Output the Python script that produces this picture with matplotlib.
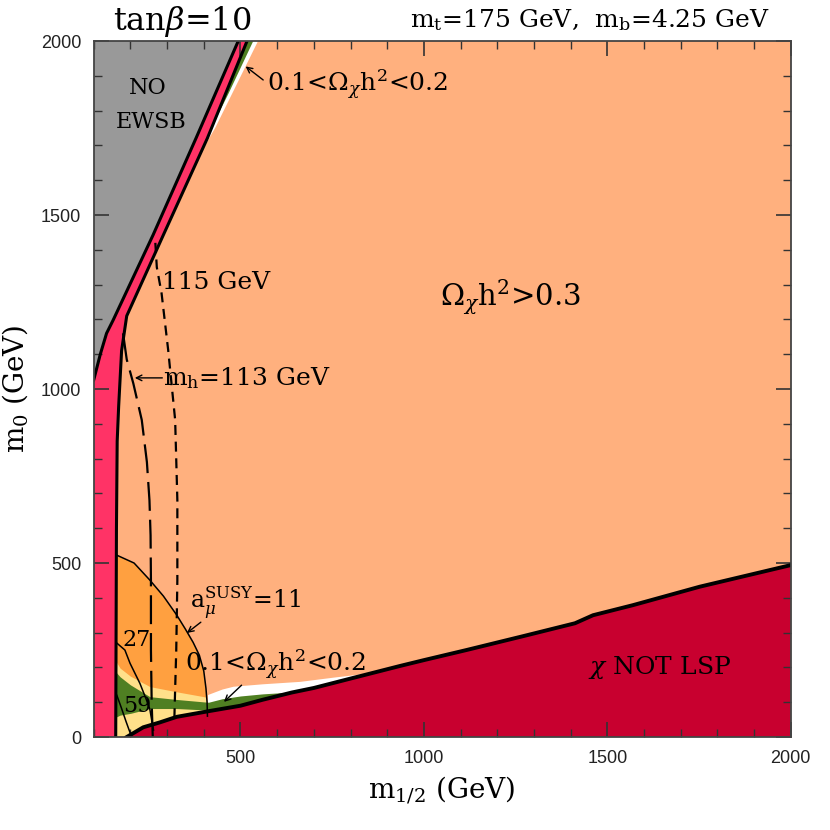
import numpy as np
import matplotlib.pyplot as plt
from matplotlib.ticker import MultipleLocator

plt.rcParams['font.family'] = ['DejaVu Serif']
plt.rcParams['mathtext.fontset'] = 'dejavuserif'

# boundaries, (m_1/2, m_0) in GeV
ewsb_x = [100, 118, 135, 153, 262, 379, 494]
ewsb_y = [1026, 1100, 1160, 1198, 1443, 1721, 2000]

chargino_x = [160, 162, 164, 168, 176, 190, 290, 410, 518]
chargino_y = [0, 600, 850, 950, 1110, 1210, 1443, 1721, 2000]

stau_x = [190, 235, 280, 326, 417, 500, 560, 640, 700, 800, 934, 1000, 1116, 1271, 1412, 1461, 1570, 1752, 2000]
stau_y = [0, 28, 42, 58, 75, 90, 107, 128, 141, 168, 204, 221, 250, 290, 327, 350, 379, 432, 494]

amu11_x = [162, 210, 253, 290, 326, 350, 371, 388, 400, 406, 409, 410]
amu11_y = [523, 500, 451, 405, 351, 310, 272, 235, 190, 140, 100, 60]
amu27_x = [163, 185, 199, 226, 244, 253, 258, 263]
amu27_y = [270, 250, 212, 154, 106, 80, 49, 20]
amu59_x = [163, 175, 188, 200, 204]
amu59_y = [120, 85, 45, 10, 0]

mh113_x = [180, 190, 208, 231, 245, 252, 255, 256, 256, 258, 261]
mh113_y = [1160, 1085, 1016, 911, 790, 680, 580, 450, 250, 100, 0]
mh115_x = [268, 272, 285, 303, 322, 328, 328, 325, 321, 320]
mh115_y = [1420, 1350, 1275, 1112, 911, 681, 451, 250, 100, 58]

# relic density bands near the bottom
band_x = [162, 172, 200, 253, 326, 400, 413]
yellow_top = [215, 198, 175, 145, 130, 116, 113]

green_x = [162, 172, 200, 253, 326, 400, 413, 450, 500, 560, 620, 665]
green_top = [185, 173, 150, 116, 108, 101, 100, 110, 118, 124, 128, 133]
green_bot = [58, 63, 68, 82, 82, 78, 76, 60, 60, 60, 60, 60]

white_x = [410, 450, 480, 560, 662, 752, 825, 860]
white_top = [122, 138, 146, 153, 160, 172, 181, 188]

# focus-point strip along the chargino edge
focus_y = [1680, 1752, 1850, 2000]
focus_green = [0, 0, 8, 17]
focus_white = [0, 10, 18, 30]

c_peach = '#FFB07E'
c_gray = '#999999'
c_pink = '#FF3366'
c_red = '#C8002F'
c_orange = '#FFA040'
c_yellow = '#FFE08A'
c_green = '#4F7F22'

fig = plt.figure(figsize=(8.3, 8.3), dpi=100)
ax = fig.add_axes([0.1129, 0.1120, 0.8398, 0.8386])
ax.set_facecolor(c_peach)

# no EWSB
ax.fill([100] + ewsb_x + [100], [1026] + ewsb_y + [2000], color=c_gray, lw=0)

# chargino (pink) strip
px = [100, 100] + ewsb_x[1:] + chargino_x[::-1]
py = [0, 1026] + ewsb_y[1:] + chargino_y[::-1]
ax.fill(px, py, color=c_pink, lw=0)

# focus point strips
edge = np.interp(focus_y, chargino_y, chargino_x)
ax.fill(np.concatenate([edge, (edge + focus_white)[::-1]]),
        np.concatenate([focus_y, focus_y[::-1]]), color='white', lw=0)
ax.fill(np.concatenate([edge, (edge + focus_green)[::-1]]),
        np.concatenate([focus_y, focus_y[::-1]]), color=c_green, lw=0)

# g-2 region
orange = ax.fill(amu11_x + [410, 162], amu11_y + [0, 0], color=c_orange, lw=0)[0]
yel = ax.fill_between(band_x, 0, yellow_top, color=c_yellow, lw=0)
yel.set_clip_path(orange)

# white and green relic bands
ax.fill_between(white_x, 0, white_top, color='white', lw=0)
ax.fill_between(green_x, green_bot, green_top, color=c_green, lw=0)

# stau LSP region
ax.fill(stau_x + [2000], stau_y + [0], color=c_red, lw=0)

# boundary lines
ax.plot(ewsb_x, ewsb_y, color='k', lw=2.2)
ax.plot(chargino_x, chargino_y, color='k', lw=2.2)
ax.plot(stau_x, stau_y, color='k', lw=2.8)
for cx, cy in [(amu11_x, amu11_y), (amu27_x, amu27_y), (amu59_x, amu59_y)]:
    ax.plot(cx, cy, color='k', lw=1.1)
ax.plot(mh113_x, mh113_y, color='k', lw=1.6, linestyle=(0, (13, 4)))
ax.plot(mh115_x, mh115_y, color='k', lw=1.6, linestyle=(0, (4.5, 3)))

# labels
ax.text(247, 1864, 'NO', fontsize=16, ha='center', va='center')
ax.text(257, 1766, 'EWSB', fontsize=16, ha='center', va='center')
ax.text(572, 1874, r'0.1<$\Omega_\chi$h$^2$<0.2', fontsize=18, ha='left', va='center')
ax.annotate('', xy=(514, 1927), xytext=(562, 1888),
            arrowprops=dict(arrowstyle='->', lw=1, color='k', shrinkA=0, shrinkB=0))
ax.text(285, 1305, '115 GeV', fontsize=18, ha='left', va='center')
ax.text(289, 1032, r'm$_{\rm h}$=113 GeV', fontsize=18, ha='left', va='center')
ax.annotate('', xy=(212, 1032), xytext=(287, 1032),
            arrowprops=dict(arrowstyle='->', lw=1, color='k', shrinkA=0, shrinkB=0))
ax.text(1044, 1264, r'$\Omega_\chi$h$^2$>0.3', fontsize=21, ha='left', va='center')
ax.text(362, 385, r'a$_\mu^{\rm SUSY}$=11', fontsize=17, ha='left', va='center')
ax.annotate('', xy=(354, 299), xytext=(392, 330),
            arrowprops=dict(arrowstyle='->', lw=1, color='k', shrinkA=0, shrinkB=0))
ax.text(218, 279, '27', fontsize=16, ha='center', va='center')
ax.text(218, 89, '59', fontsize=16, ha='center', va='center')
ax.text(349, 207, r'0.1<$\Omega_\chi$h$^2$<0.2', fontsize=18, ha='left', va='center')
ax.annotate('', xy=(455, 101), xytext=(503, 149),
            arrowprops=dict(arrowstyle='->', lw=1, color='k', shrinkA=0, shrinkB=0))
ax.text(1447, 201, r'$\chi$ NOT LSP', fontsize=18, ha='left', va='center')

# axes
ax.set_xlim(100, 2000)
ax.set_ylim(0, 2000)
ax.set_xticks([500, 1000, 1500, 2000])
ax.set_yticks([0, 500, 1000, 1500, 2000])
ax.xaxis.set_minor_locator(MultipleLocator(100))
ax.yaxis.set_minor_locator(MultipleLocator(100))
ax.tick_params(which='both', direction='in', top=True, right=True, color='#333333',
               labelsize=13, labelcolor='#222222', pad=9)
ax.tick_params(which='major', length=11, width=1.2)
ax.tick_params(which='minor', length=6, width=1.0)
for lab in ax.get_xticklabels() + ax.get_yticklabels():
    lab.set_family('Liberation Sans')
for s in ax.spines.values():
    s.set_linewidth(1.3)
    s.set_color('#444444')
    s.set_zorder(5)

ax.set_xlabel(r'm$_{1/2}$ (GeV)', fontsize=20, labelpad=6)
ax.set_ylabel(r'm$_0$ (GeV)', fontsize=20, labelpad=8)

fig.text(0.136, 0.964, r'tan$\beta$=10', fontsize=23, ha='left', va='baseline')
fig.text(0.928, 0.967, r'm$_{\rm t}$=175 GeV,  m$_{\rm b}$=4.25 GeV', fontsize=18,
         ha='right', va='baseline')

fig.savefig('out.png', dpi=100)
